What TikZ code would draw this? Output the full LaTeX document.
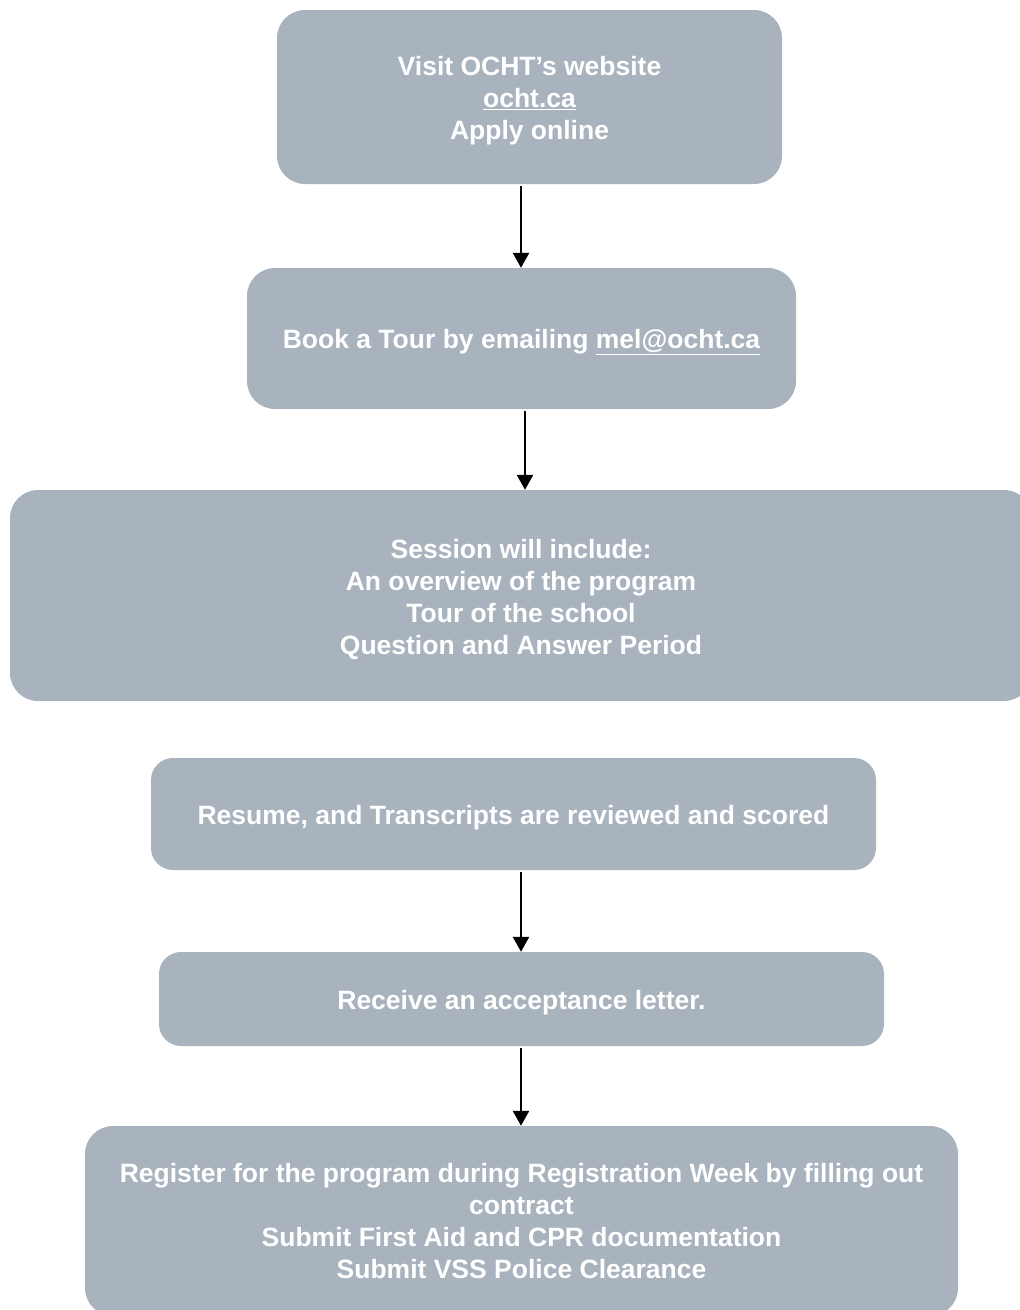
\documentclass[tikz,border=0pt]{standalone}
\usepackage{fontspec}
\setmainfont{Liberation Sans}
\usetikzlibrary{arrows.meta}
\definecolor{boxgray}{RGB}{168,179,190}
\tikzset{
  stepbox/.style={draw=none, fill=boxgray, rounded corners=28pt, inner sep=0pt},
  steptext/.style={text=white, font=\bfseries\fontsize{26.5}{32}\selectfont,
    align=center, inner sep=0pt, yshift=-3.5pt},
  arr/.style={line width=2.5pt, -{Triangle[width=16pt,length=15pt]}, shorten <=2pt}
}
\begin{document}
\begin{tikzpicture}[x=1pt,y=-1pt]
\useasboundingbox[fill=white] (0,0) rectangle (1020,1310);
\node[stepbox, minimum width=505pt, minimum height=174pt] (b1) at (529.5,97) {};
\node[steptext] (t1) at (b1.center) {Visit OCHT’s website\\\underline{ocht.ca}\\Apply online};
\node[stepbox, minimum width=549pt, minimum height=141pt] (b2) at (521.5,338.5) {};
\node[steptext] (t2) at (b2.center) {Book a Tour by emailing \underline{mel@ocht.ca}};
\node[stepbox, minimum width=1022pt, minimum height=211pt] (b3) at (521,595.5) {};
\node[steptext] (t3) at (b3.center) {Session will include:\\An overview of the program\\Tour of the school\\Question and Answer Period};
\node[stepbox, rounded corners=22pt, minimum width=725pt, minimum height=112pt] (b4) at (513.5,814) {};
\node[steptext] (t4) at (b4.center) {Resume, and Transcripts are reviewed and scored};
\node[stepbox, rounded corners=22pt, minimum width=725pt, minimum height=94pt] (b5) at (521.5,999) {};
\node[steptext] (t5) at (b5.center) {Receive an acceptance letter.};
\node[stepbox, minimum width=873pt, minimum height=190pt] (b6) at (521.5,1221) {};
\node[steptext, yshift=3pt] (t6) at (b6.center) {Register for the program during Registration Week by filling out\\contract\\Submit First Aid and CPR documentation\\Submit VSS Police Clearance};
\coordinate (x1) at (521,0);
\coordinate (x2) at (525,0);
\draw[arr] (b1.south -| x1) -- (b2.north -| x1);
\draw[arr] (b2.south -| x2) -- (b3.north -| x2);
\draw[arr] (b4.south -| x1) -- (b5.north -| x1);
\draw[arr] (b5.south -| x1) -- (b6.north -| x1);
\end{tikzpicture}
\end{document}
